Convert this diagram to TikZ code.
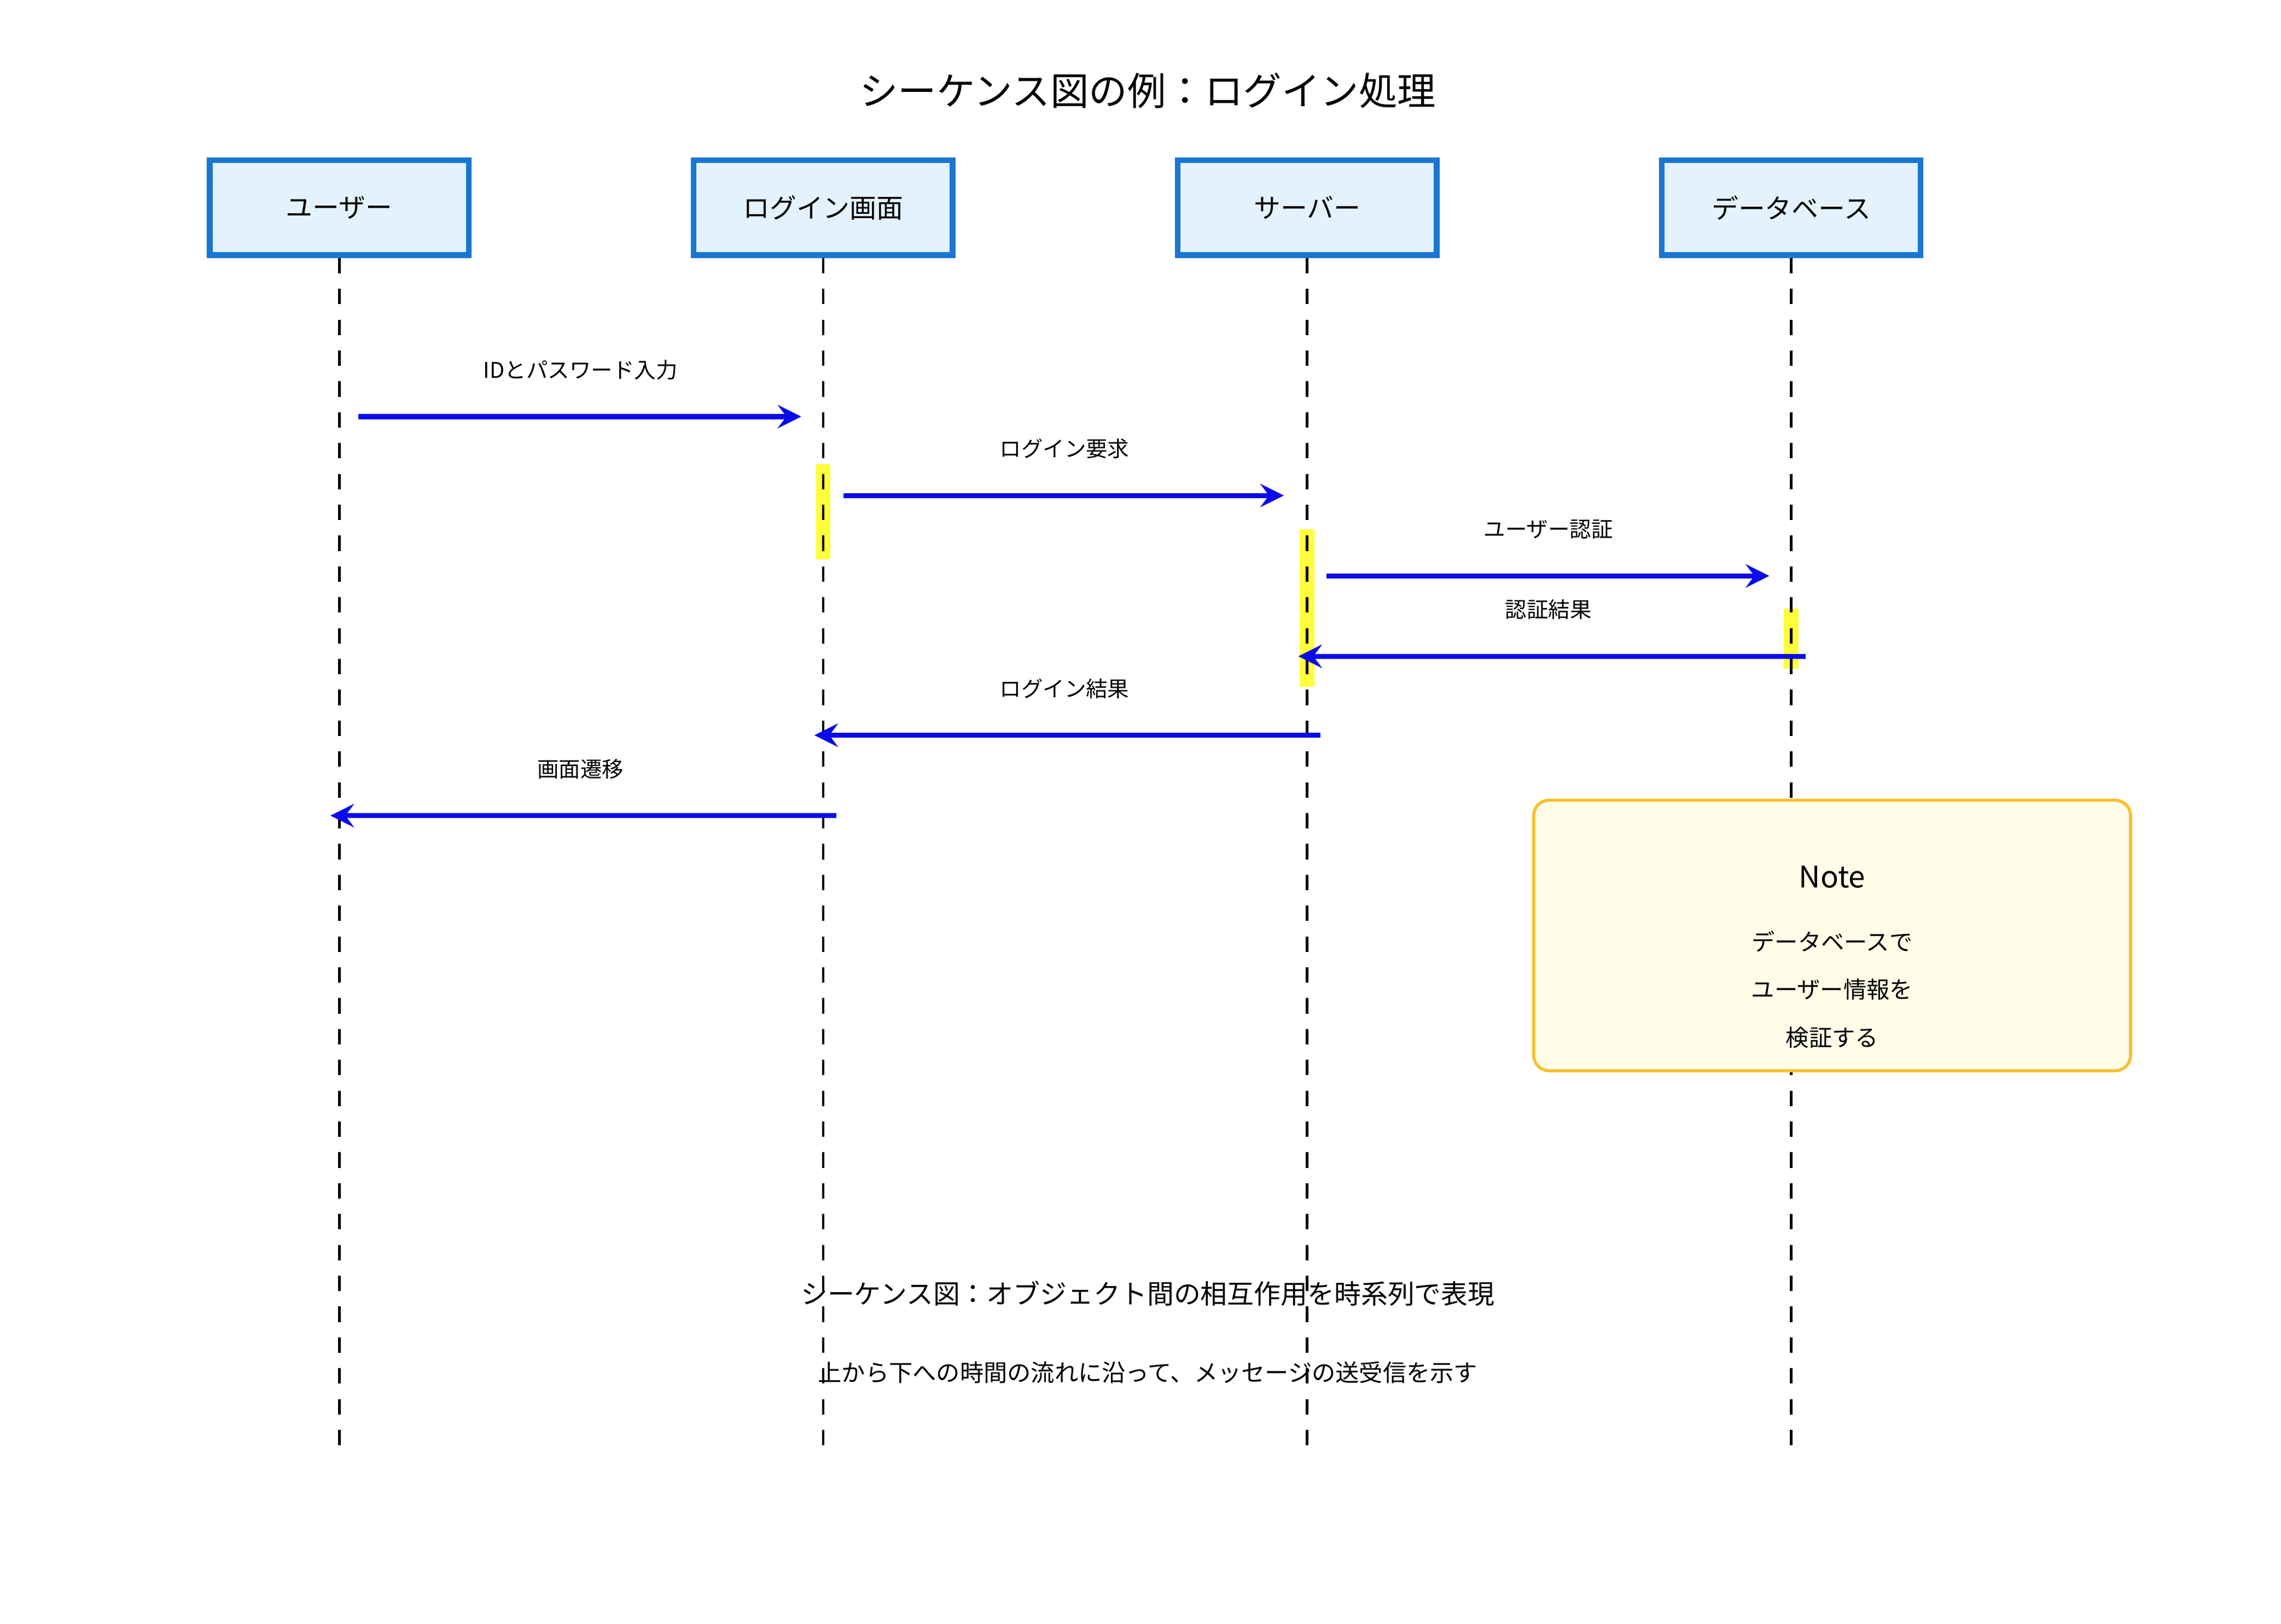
\documentclass[tikz,border=0pt]{standalone}
\usepackage{fontspec}
\setmainfont{Noto Sans CJK JP}
\usetikzlibrary{arrows,positioning,calc}
\definecolor{actorfill}{RGB}{227,242,253}
\definecolor{actordraw}{RGB}{25,118,210}
\definecolor{notefill}{RGB}{255,253,231}
\definecolor{notedraw}{RGB}{251,192,45}
\definecolor{msgcolor}{RGB}{10,10,235}
\definecolor{actcolor}{RGB}{255,255,60}

\begin{document}
\begin{tikzpicture}[
    x=0.01cm, y=-0.01cm,
    actor/.style={rectangle, fill=actorfill, draw=actordraw, line width=1.1pt, minimum width=1.77cm, minimum height=0.65cm, font=\fontsize{5.2pt}{6pt}\selectfont},
    lifeline/.style={dashed, black, line width=0.5pt},
    act/.style={fill=actcolor, draw=none, minimum width=0.1cm, inner sep=0pt},
    msg/.style={->, >=stealth, line width=1pt, msgcolor},
    label/.style={font=\fontsize{4.2pt}{5pt}\selectfont},
    note/.style={rectangle, rounded corners=3pt, fill=notefill, draw=notedraw, line width=0.6pt, minimum width=4.08cm, minimum height=1.85cm}
]
\useasboundingbox (0,0) rectangle (1560,1111);

\node[font=\fontsize{7.5pt}{9pt}\selectfont] (title) at (785,62) {シーケンス図の例：ログイン処理};

% Actors
\node[actor] (user) at (232,142) {ユーザー};
\node[actor] (screen) at (563,142) {ログイン画面};
\node[actor] (server) at (894,142) {サーバー};
\node[actor] (db) at (1225,142) {データベース};

% Activation bars (behind lifelines)
\node[act, minimum height=0.65cm] (actscreen) at (563,350) {};
\node[act, minimum height=1.08cm] (actserver) at (894,416) {};
\node[act, minimum height=0.41cm] (actdb) at (1225,437) {};

% Lifelines
\foreach \a/\x in {user/232, screen/563, server/894, db/1225}
  \draw[lifeline] (\a.south) -- (\x,995);

% Note
\node[note] (note) at (1253,640) {};
\node[font=\fontsize{5.8pt}{7pt}\selectfont] (notetitle) at (1253,600) {Note};
\node[label, font=\fontsize{4.5pt}{5pt}\selectfont] (note1) at (1253,644) {データベースで};
\node[label, font=\fontsize{4.5pt}{5pt}\selectfont] (note2) at (1253,677) {ユーザー情報を};
\node[label, font=\fontsize{4.5pt}{5pt}\selectfont] (note3) at (1253,710) {検証する};

% Messages
\coordinate (m1a) at (245,285); \coordinate (m1b) at (548,285);
\coordinate (m2a) at (577,339); \coordinate (m2b) at (878,339);
\coordinate (m3a) at (907,394); \coordinate (m3b) at (1210,394);
\coordinate (m4a) at (1235,449); \coordinate (m4b) at (888,449);
\coordinate (m5a) at (903,503); \coordinate (m5b) at (557,503);
\coordinate (m6a) at (572,558); \coordinate (m6b) at (226,558);

\draw[msg] (m1a) -- (m1b);
\node[label] (l1) at (397,253) {IDとパスワード入力};
\draw[msg] (m2a) -- (m2b);
\node[label] (l2) at (728,307) {ログイン要求};
\draw[msg] (m3a) -- (m3b);
\node[label] (l3) at (1059,362) {ユーザー認証};
\draw[msg] (m4a) -- (m4b);
\node[label] (l4) at (1059,417) {認証結果};
\draw[msg] (m5a) -- (m5b);
\node[label] (l5) at (728,471) {ログイン結果};
\draw[msg] (m6a) -- (m6b);
\node[label] (l6) at (397,526) {画面遷移};

% Caption
\node[font=\fontsize{5.2pt}{6pt}\selectfont] (cap1) at (785,885) {シーケンス図：オブジェクト間の相互作用を時系列で表現};
\node[font=\fontsize{4.6pt}{5.5pt}\selectfont] (cap2) at (785,939) {上から下への時間の流れに沿って、メッセージの送受信を示す};

\end{tikzpicture}
\end{document}
